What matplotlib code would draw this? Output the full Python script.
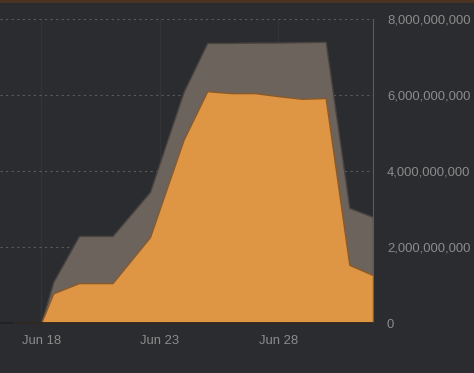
import pandas as pd
import matplotlib.pyplot as plt
import matplotlib.dates as mdates
from matplotlib.patches import Rectangle
from matplotlib.ticker import FuncFormatter

# 資料 (自圖讀取)
dates = pd.to_datetime([
    "2024-06-16 19:00", "2024-06-18 00:00", "2024-06-18 12:00", "2024-06-19 14:00",
    "2024-06-21 00:00", "2024-06-22 14:00", "2024-06-24 00:00", "2024-06-25 00:00",
    "2024-06-26 00:00", "2024-06-27 00:00", "2024-06-28 00:00", "2024-06-29 00:00",
    "2024-06-30 00:00", "2024-07-01 00:00", "2024-07-02 00:00",
])
total = [0.01e9, 0.02e9, 1.08e9, 2.29e9, 2.29e9, 3.45e9, 6.08e9, 7.37e9,
         7.37e9, 7.38e9, 7.38e9, 7.39e9, 7.40e9, 3.03e9, 2.79e9]
part = [0.01e9, 0.02e9, 0.78e9, 1.05e9, 1.05e9, 2.26e9, 4.82e9, 6.10e9,
        6.05e9, 6.05e9, 5.97e9, 5.90e9, 5.92e9, 1.53e9, 1.26e9]
xticks = pd.to_datetime(["2024-06-18", "2024-06-23", "2024-06-28"])

bg = "#2b2c2f"
fig = plt.figure(figsize=(4.74, 3.73), dpi=100, facecolor=bg)
ax = fig.add_axes([0, 50 / 373, 373 / 474, 304 / 373], facecolor=bg)

# 上方的棕色邊條
fig.patches.append(Rectangle((0, 1 - 3 / 373), 1, 3 / 373, transform=fig.transFigure,
                             facecolor="#4b3322", edgecolor="none"))

ax.fill_between(dates, 0, total, color="#6b635c", edgecolor="#4a4440", linewidth=1, zorder=2)
ax.fill_between(dates, 0, part, color="#de9544", edgecolor="#8a5a2a", linewidth=1, zorder=3)

ax.set_xlim(pd.Timestamp("2024-06-16 06:00"), dates[-1])
ax.set_ylim(0, 8e9)
ax.set_xticks(xticks)
ax.xaxis.set_major_formatter(mdates.DateFormatter("%b %d"))
ax.set_yticks([0, 2e9, 4e9, 6e9, 8e9])
ax.yaxis.set_major_formatter(FuncFormatter(lambda v, p: f"{int(v):,}"))
ax.yaxis.tick_right()

font = dict(family="Liberation Sans", size=9.4)
for lab in ax.get_xticklabels() + ax.get_yticklabels():
    lab.set_fontfamily(font["family"])
    lab.set_fontsize(font["size"])
    lab.set_color("#8c8c8c")
ax.tick_params(axis="both", length=0)
ax.tick_params(axis="x", pad=9)
ax.tick_params(axis="y", pad=10)

ax.grid(axis="y", linestyle=(0, (2, 3)), color="#5a5b5e", linewidth=0.8, zorder=1)
ax.grid(axis="x", linestyle="-", color="#333437", linewidth=1, zorder=1)
ax.set_axisbelow(True)

for side in ["left", "top"]:
    ax.spines[side].set_visible(False)
ax.spines["right"].set_color("#5a5b5e")
ax.spines["bottom"].set_color("#1e1f21")
ax.spines["bottom"].set_linewidth(1.2)
ax.spines["bottom"].set_zorder(5)

fig.savefig("out.png", dpi=100, facecolor=bg)
